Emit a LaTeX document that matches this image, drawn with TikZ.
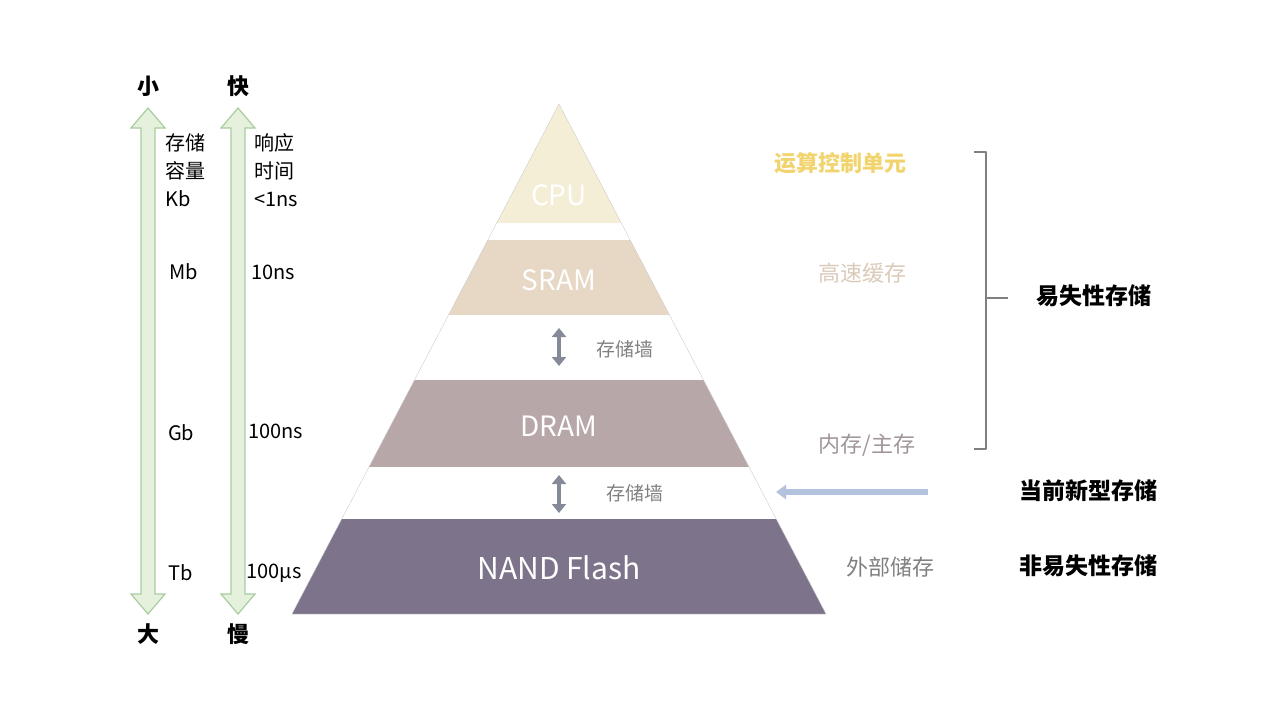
\documentclass[tikz,border=0pt]{standalone}
\usepackage{fontspec}
\setmainfont{Noto Sans CJK SC}
\usetikzlibrary{arrows.meta}
\definecolor{cpuc}{HTML}{F4EED6}
\definecolor{sramc}{HTML}{E7D7C5}
\definecolor{dramc}{HTML}{B8A7A8}
\definecolor{nandc}{HTML}{7D738A}
\definecolor{gfill}{HTML}{E5F0DD}
\definecolor{gline}{HTML}{A8CE9E}
\definecolor{wallc}{HTML}{858A99}
\definecolor{bluec}{HTML}{B3C3DD}
\begin{document}
\begin{tikzpicture}[x=1pt,y=-1pt,
  lbl/.style={inner sep=0pt,font=\fontsize{20}{23}\selectfont},
  band/.style={font=\fontsize{28}{30}\selectfont,text=white,inner sep=0pt},
  side/.style={font=\fontsize{22}{24}\selectfont,inner sep=0pt},
  right/.style={font=\fontsize{23}{25}\selectfont\bfseries,inner sep=0pt},
  wall/.style={font=\fontsize{19}{21}\selectfont,text=gray,inner sep=0pt},
  garrow/.style={fill=gfill,draw=gline,line width=1.2pt}]
\useasboundingbox (0,0) rectangle (1280,720);
% pyramid
\coordinate (apex) at (559,104);
\coordinate (bl) at (292,614);
\coordinate (br) at (826,614);
\begin{scope}
\clip (apex) -- (br) -- (bl) -- cycle;
\fill[cpuc] (280,100) rectangle (840,223);
\fill[sramc] (280,240) rectangle (840,315);
\fill[dramc] (280,380) rectangle (840,467);
\fill[nandc] (280,519) rectangle (840,615);
\end{scope}
\draw[gray!40,line width=0.4pt] (apex) -- (br) -- (bl) -- cycle;
\node[band] (cpu) at (559,195) {CPU};
\node[band] (sram) at (559,280) {SRAM};
\node[band] (dram) at (559,426) {DRAM};
\node[band,font=\fontsize{30}{32}\selectfont] (nand) at (559,568) {NAND Flash};
% walls
\coordinate (w1a) at (559,328); \coordinate (w1b) at (559,366);
\coordinate (w2a) at (559,475); \coordinate (w2b) at (559,513);
\draw[wallc,line width=4pt,{Triangle[length=9pt,width=14pt]}-{Triangle[length=9pt,width=14pt]}] (w1a) -- (w1b);
\draw[wallc,line width=4pt,{Triangle[length=9pt,width=14pt]}-{Triangle[length=9pt,width=14pt]}] (w2a) -- (w2b);
\node[wall] (wall1) at (625,349) {存储墙};
\node[wall] (wall2) at (635,493) {存储墙};
% left arrows
\foreach \cx/\nm in {148/a1,238/a2}{
 \draw[garrow] (\cx,108) -- (\cx+17,128) -- (\cx+7,128) -- (\cx+7,594) -- (\cx+17,594) -- (\cx,614)
   -- (\cx-17,594) -- (\cx-7,594) -- (\cx-7,128) -- (\cx-17,128) -- cycle;
}
\node[lbl,font=\fontsize{22}{24}\selectfont\bfseries] (small) at (148,86) {小};
\node[lbl,font=\fontsize{22}{24}\selectfont\bfseries] (big) at (148,634) {大};
\node[lbl,font=\fontsize{22}{24}\selectfont\bfseries] (fast) at (238,86) {快};
\node[lbl,font=\fontsize{22}{24}\selectfont\bfseries] (slow) at (238,634) {慢};
\node[lbl,anchor=north west,align=left,font=\fontsize{20}{28}\selectfont] (cap) at (165,133) {存储\\容量\\Kb};
\node[lbl,anchor=north west,align=left,font=\fontsize{20}{28}\selectfont] (rt) at (254,133) {响应\\时间\\<1ns};
\node[lbl,anchor=west] (mb) at (169,272) {Mb};
\node[lbl,anchor=west] (gb) at (168,433) {Gb};
\node[lbl,anchor=west] (tb) at (168,573) {Tb};
\node[lbl,anchor=west] (t2) at (251,272) {10ns};
\node[lbl,anchor=west] (t3) at (248,431) {100ns};
\node[lbl,anchor=west] (t4) at (246,573) {100μs};
% side labels
\node[side,text={rgb,255:red,242;green,212;blue,110},font=\fontsize{22}{24}\selectfont\bfseries] (alu) at (840,163) {运算控制单元};
\node[side,text={rgb,255:red,218;green,202;blue,186}] (cache) at (862,273) {高速缓存};
\node[side,text={rgb,255:red,160;green,150;blue,152}] (mem) at (867,445) {内存/主存};
\node[side,text={rgb,255:red,128;green,128;blue,128}] (ext) at (890,567) {外部储存};
% bracket
\draw[gray,line width=2.2pt,line join=round] (974,152) -- (986,152) -- (986,298) -- (1008,298);
\draw[gray,line width=2.2pt,line join=round] (986,298) -- (986,449) -- (974,449);
\coordinate (brk) at (1008,298);
\node[right,anchor=west] (vol) at (1036,296) {易失性存储};
% blue arrow
\coordinate (bs) at (928,492);
\coordinate (be) at (776,492);
\draw[bluec,line width=6pt,-{Triangle[length=10pt,width=14pt]}] (bs) -- (be);
\node[right,anchor=west] (new) at (1019,491) {当前新型存储};
\node[right,anchor=west] (nv) at (1019,566) {非易失性存储};
\end{tikzpicture}
\end{document}
